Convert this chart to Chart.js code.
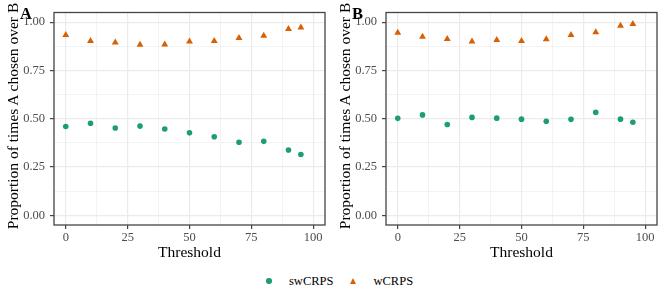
<!DOCTYPE html>
<html>
<head>
<meta charset="utf-8">
<script src="https://cdn.jsdelivr.net/npm/chart.js@4/dist/chart.umd.min.js"></script>
<style>
  html, body { margin: 0; padding: 0; background: #fff; }
  #wrap { position: relative; width: 664px; height: 295px; overflow: hidden;
          font-family: "Liberation Serif", "DejaVu Serif", serif; }
  canvas { position: absolute; top: 0; }
  .ytitle { position: absolute; top: 115.5px; font-size: 15.5px; line-height: 18px;
            white-space: nowrap; color: #000;
            transform: translate(-50%, -50%) rotate(-90deg); }
  .tag { position: absolute; top: 4px; font-size: 16.5px; line-height: 19px; font-weight: bold; color: #000; }
  .leg-txt { position: absolute; top: 273px; font-size: 12.5px; line-height: 17px; color: #000; }
  .dot { position: absolute; width: 5.6px; height: 5.6px; border-radius: 50%; background: #1B9E77; }
  .tri { position: absolute; width: 0; height: 0; border-left: 3.4px solid transparent;
         border-right: 3.4px solid transparent; border-bottom: 6px solid #D95F02; }
</style>
</head>
<body>
<div id="wrap">
  <canvas id="chartA" width="332" height="262" style="left:0"></canvas>
  <canvas id="chartB" width="332" height="262" style="left:332px"></canvas>
  <div class="ytitle" style="left:13px">Proportion of times A chosen over B</div>
  <div class="ytitle" style="left:345px">Proportion of times A chosen over B</div>
  <div class="tag" style="left:20px">A</div>
  <div class="tag" style="left:352px">B</div>
  <div class="dot" style="left:266.2px; top:278.2px"></div>
  <div class="leg-txt" style="left:289px">swCRPS</div>
  <div class="tri" style="left:350.3px; top:278px"></div>
  <div class="leg-txt" style="left:373.5px">wCRPS</div>
</div>
<script>
"use strict";

// ── Data ───────────────────────────────────────────────────────────── //
const thresholds = [0, 10, 20, 30, 40, 50, 60, 70, 80, 90, 95];

const swCrpsA = [0.460, 0.477, 0.452, 0.462, 0.447, 0.427, 0.407, 0.378, 0.383, 0.338, 0.315];
const wCrpsA  = [0.933, 0.902, 0.895, 0.883, 0.885, 0.900, 0.902, 0.918, 0.930, 0.965, 0.973];

const swCrpsB = [0.502, 0.520, 0.470, 0.507, 0.503, 0.498, 0.487, 0.497, 0.533, 0.498, 0.482];
const wCrpsB  = [0.945, 0.925, 0.913, 0.900, 0.908, 0.903, 0.912, 0.933, 0.948, 0.982, 0.990];

const xMajor  = [0, 25, 50, 75, 100];
const xMinor  = [12.5, 37.5, 62.5, 87.5];
const yMajor  = [0, 0.25, 0.5, 0.75, 1];
const yMinor  = [0.125, 0.375, 0.625, 0.875];
const yLabels = ["0.00", "0.25", "0.50", "0.75", "1.00"];

const GREEN  = "#1B9E77";
const ORANGE = "#D95F02";
const FONT   = "'Liberation Serif', 'DejaVu Serif', serif";

// ── Helpers ────────────────────────────────────────────────────────── //
const pts = ys => thresholds.map((x, i) => ({ x, y: ys[i] }));

const panelBorder = {
  id: "panelBorder",
  afterDraw(chart) {
    const { ctx, chartArea: a } = chart;
    ctx.save();
    ctx.strokeStyle = "#444444";
    ctx.lineWidth = 1.3;
    ctx.strokeRect(a.left, a.top, a.right - a.left, a.bottom - a.top);
    ctx.restore();
  },
};

function gridOpts(major) {
  const isMajor = c => major.some(v => Math.abs(v - c.tick.value) < 1e-9);
  return {
    color: "#EBEBEB",
    lineWidth: c => (isMajor(c) ? 1.2 : 0.6),
    tickColor: c => (isMajor(c) ? "#444444" : "rgba(0,0,0,0)"),
    tickLength: 4,
  };
}

function makeChart(id, sw, w) {
  return new Chart(document.getElementById(id), {
    type: "scatter",
    data: {
      datasets: [
        { label: "swCRPS", data: pts(sw), pointStyle: "circle", pointRadius: 2.8,
          backgroundColor: GREEN, borderColor: GREEN, borderWidth: 0 },
        { label: "wCRPS", data: pts(w), pointStyle: "triangle", pointRadius: 4,
          backgroundColor: ORANGE, borderColor: ORANGE, borderWidth: 0 },
      ],
    },
    options: {
      responsive: false,
      animation: false,
      layout: { padding: { left: 0, top: 6, right: 7, bottom: 0 } },
      plugins: { legend: { display: false }, tooltip: { enabled: false } },
      scales: {
        x: {
          type: "linear", min: -4.75, max: 104.75,
          afterBuildTicks: a => { a.ticks = [...xMajor, ...xMinor].sort((p, q) => p - q).map(value => ({ value })); },
          afterFit: a => { a.height = 37; },
          grid: gridOpts(xMajor),
          border: { display: false },
          ticks: {
            autoSkip: false, maxRotation: 0, padding: 1, color: "#4D4D4D",
            font: { family: FONT, size: 12.5 },
            callback: v => (xMajor.includes(v) ? String(v) : ""),
          },
          title: { display: true, text: "Threshold", color: "#000", padding: 0,
                   font: { family: FONT, size: 15.5, lineHeight: 1.2 } },
        },
        y: {
          type: "linear", min: -0.05, max: 1.05,
          afterBuildTicks: a => { a.ticks = [...yMajor, ...yMinor].sort((p, q) => p - q).map(value => ({ value })); },
          afterFit: a => { a.width = 54; },
          grid: gridOpts(yMajor),
          border: { display: false },
          ticks: {
            autoSkip: false, padding: 5, color: "#4D4D4D",
            font: { family: FONT, size: 12.5 },
            callback: v => {
              const i = yMajor.findIndex(m => Math.abs(m - v) < 1e-9);
              return i >= 0 ? yLabels[i] : "";
            },
          },
        },
      },
    },
    plugins: [panelBorder],
  });
}

// ── Init ───────────────────────────────────────────────────────────── //
makeChart("chartA", swCrpsA, wCrpsA);
makeChart("chartB", swCrpsB, wCrpsB);
</script>
</body>
</html>
